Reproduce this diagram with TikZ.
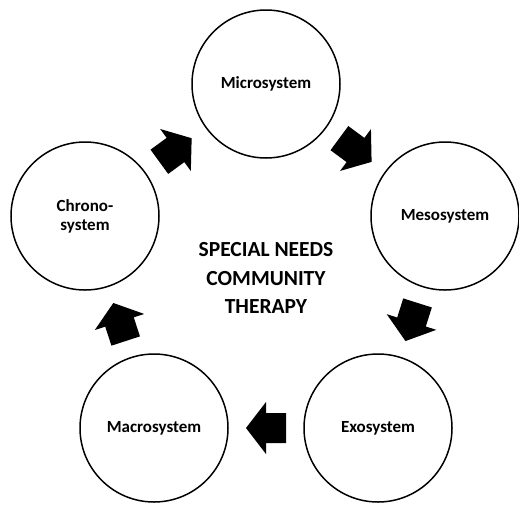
\documentclass[tikz,border=0pt]{standalone}
\usepackage{fontspec}
\setmainfont{Carlito}
\usetikzlibrary{calc}

\tikzset{
  sys/.style={circle, draw=black, line width=1.5pt, minimum size=148pt, inner sep=0pt,
              align=center, font=\bfseries\fontsize{17}{19}\selectfont},
  hub/.style={align=center, font=\bfseries\fontsize{21.5}{28.3}\selectfont},
  blockarrow/.pic={
    \fill[black] (-20pt,-15pt) -- (0pt,-15pt) -- (0pt,-26pt) -- (20pt,0pt)
                 -- (0pt,26pt) -- (0pt,15pt) -- (-20pt,15pt) -- cycle;
  }
}

\begin{document}
\begin{tikzpicture}[x=1pt, y=-1pt]
  \useasboundingbox (0,0) rectangle (519,504);

  % the five systems around the ring
  \node[sys] (micro)  at (266,84)  {Microsystem};
  \node[sys] (meso)   at (445,216) {Mesosystem};
  \node[sys] (exo)    at (378,428) {Exosystem};
  \node[sys] (macro)  at (154,428) {Macrosystem};
  \node[sys] (chrono) at (85,216)  {Chrono-\\system};

  % title in the middle
  \node[hub] (title) at (266,278) {SPECIAL NEEDS\\COMMUNITY\\THERAPY};

  % block arrows halfway between neighbouring systems
  \path (micro)  -- pic[pos=0.5, sloped, allow upside down] {blockarrow} (meso);
  \path (meso)   -- pic[pos=0.5, sloped, allow upside down] {blockarrow} (exo);
  \path (exo)    -- pic[pos=0.5, sloped, allow upside down] {blockarrow} (macro);
  \path (macro)  -- pic[pos=0.5, sloped, allow upside down] {blockarrow} (chrono);
  \path (chrono) -- pic[pos=0.5, sloped, allow upside down] {blockarrow} (micro);
\end{tikzpicture}
\end{document}
